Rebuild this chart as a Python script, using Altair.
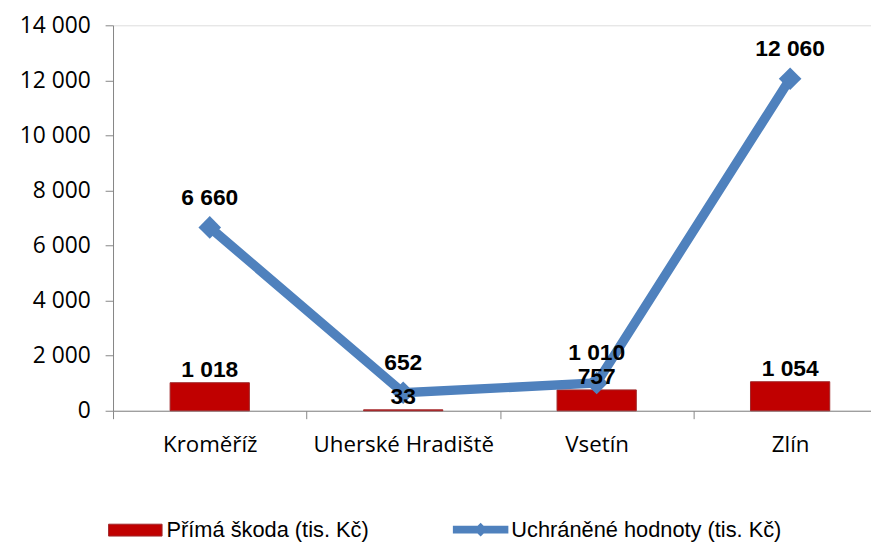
import altair as alt
import pandas as pd

categories = ["Kroměříž", "Uherské Hradiště", "Vsetín", "Zlín"]
prima_skoda = [1018, 33, 757, 1054]
uchranene = [6660, 652, 1010, 12060]
bar_name = "Přímá škoda (tis. Kč)"
line_name = "Uchráněné hodnoty (tis. Kč)"
y_ticks = [0, 2000, 4000, 6000, 8000, 10000, 12000, 14000]

bars_df = pd.DataFrame({"kat": categories, "hodnota": prima_skoda, "serie": bar_name})
line_df = pd.DataFrame({"kat": categories, "hodnota": uchranene, "serie": line_name})

RED = "#C00000"
BLUE = "#4F81BD"
AXIS_FONT = "Open Sans"
LABEL_FONT = "Liberation Sans"

x_enc = alt.X(
    "kat:N",
    sort=categories,
    title=None,
    scale=alt.Scale(paddingInner=0, paddingOuter=0),
    axis=alt.Axis(
        labelAngle=0,
        labelFont=AXIS_FONT,
        labelFontSize=22.5,
        labelColor="#000000",
        labelPadding=15,
        labelLimit=0,
        domainColor="#868686",
        tickColor="#868686",
        tickSize=8,
        tickBand="extent",
        grid=False,
    ),
)
y_enc = alt.Y(
    "hodnota:Q",
    title=None,
    scale=alt.Scale(domain=[0, 14000], nice=False),
    axis=alt.Axis(
        values=y_ticks,
        labelExpr="replace(format(datum.value, ','), ',', ' ')",
        labelFont=AXIS_FONT,
        labelFontSize=23,
        labelColor="#000000",
        labelPadding=15,
        domainColor="#868686",
        tickColor="#868686",
        tickSize=8,
        grid=False,
    ),
)

bars = alt.Chart(bars_df).mark_bar(size=80, stroke="#A0282A", strokeWidth=1).encode(
    x=x_enc,
    y=y_enc,
    fill=alt.Fill(
        "serie:N",
        scale=alt.Scale(domain=[bar_name], range=[RED]),
        legend=alt.Legend(
            title=None,
            orient="none",
            legendX=-5,
            legendY=482,
            symbolType="M-1,-0.222L1,-0.222L1,0.222L-1,0.222Z",
            symbolSize=2916,
            symbolStrokeWidth=1,
            symbolStrokeColor="#A0282A",
            labelFont=LABEL_FONT,
            labelFontSize=22,
            labelColor="#000000",
            labelOffset=4,
            labelLimit=0,
        ),
    ),
)

line = alt.Chart(line_df).mark_line(strokeWidth=9.5).encode(
    x=alt.X("kat:N", sort=categories),
    y=alt.Y("hodnota:Q"),
    stroke=alt.Stroke(
        "serie:N",
        scale=alt.Scale(domain=[line_name], range=[BLUE]),
        legend=alt.Legend(
            title=None,
            orient="none",
            legendX=343,
            legendY=481,
            symbolType="M-1,-0.14L1,-0.14L1,0.14L-1,0.14Z M-0.25,0L0,-0.25L0.25,0L0,0.25Z",
            symbolSize=3136,
            symbolFillColor=BLUE,
            symbolStrokeColor=BLUE,
            symbolStrokeWidth=0,
            labelFont=LABEL_FONT,
            labelFontSize=22,
            labelColor="#000000",
            labelOffset=3,
            labelLimit=0,
        ),
    ),
)

points = alt.Chart(line_df).mark_point(
    shape="diamond", filled=True, size=520, color=BLUE, opacity=1
).encode(
    x=alt.X("kat:N", sort=categories),
    y=alt.Y("hodnota:Q"),
)

bar_labels = alt.Chart(bars_df).transform_calculate(
    txt="replace(format(datum.hodnota, ','), ',', ' ')"
).mark_text(
    font=LABEL_FONT, fontSize=23, fontWeight="bold", color="#000000",
    baseline="alphabetic", dy=-6,
).encode(
    x=alt.X("kat:N", sort=categories),
    y=alt.Y("hodnota:Q"),
    text="txt:N",
)

line_labels = alt.Chart(line_df).transform_calculate(
    txt="replace(format(datum.hodnota, ','), ',', ' ')"
).mark_text(
    font=LABEL_FONT, fontSize=23, fontWeight="bold", color="#000000",
    baseline="middle", dy=-30,
).encode(
    x=alt.X("kat:N", sort=categories),
    y=alt.Y("hodnota:Q"),
    text="txt:N",
)

chart = alt.layer(bars, line, points, bar_labels, line_labels).resolve_legend(
    fill="independent", stroke="independent"
).properties(
    width=781,
    height=389,
    autosize=alt.AutoSizeParams(type="none"),
    padding={"left": 106, "top": 15, "right": -16, "bottom": 130},
).configure_view(stroke=None).configure(background="#FFFFFF")

chart.save("out.html", embed_options={"renderer": "svg", "actions": False})
